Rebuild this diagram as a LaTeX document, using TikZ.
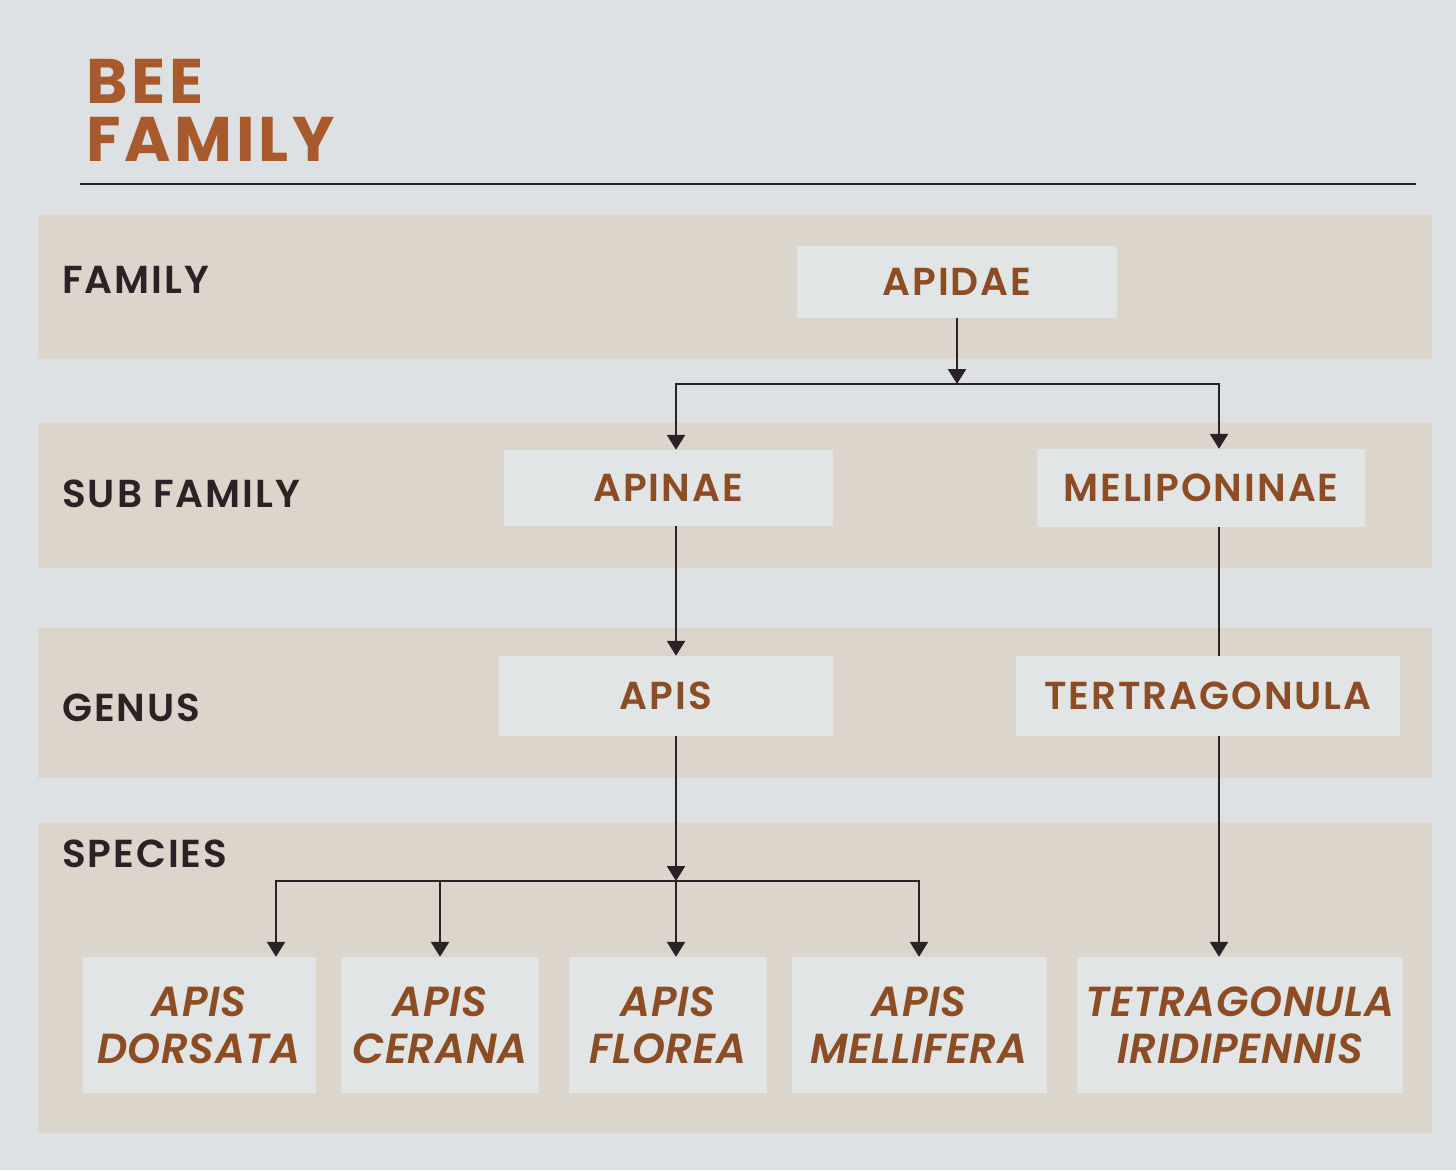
\documentclass[tikz,border=0pt]{standalone}
\usepackage{fontspec}
\setmainfont{Poppins}
\newfontfamily\labelfont{Poppins SemiBold}[LetterSpace=5]
\newfontfamily\speciesfont{Poppins SemiBold Italic}[LetterSpace=1.5]
\newfontfamily\titlefont{Poppins Bold}[LetterSpace=6]
\usetikzlibrary{arrows.meta}

\definecolor{paper}{HTML}{DDE1E4}
\definecolor{band}{HTML}{DBD5CC}
\definecolor{boxfill}{HTML}{E2E5E6}
\definecolor{rust}{HTML}{8C4C24}
\definecolor{titlerust}{HTML}{A95A2C}
\definecolor{ink}{HTML}{2A2325}

\begin{document}
\begin{tikzpicture}[x=1pt, y=-1pt,
	rank/.style = {anchor=base west, inner sep=0pt, text=ink, font=\labelfont\fontsize{39}{48}\selectfont},
	taxon/.style = {fill=boxfill, text=rust, inner sep=0pt, font=\labelfont\fontsize{39}{48}\selectfont},
	species/.style = {taxon, align=center, font=\speciesfont\fontsize{42}{47}\selectfont},
	heading/.style = {anchor=base west, inner sep=0pt, align=left, text=titlerust, font=\titlefont\fontsize{63}{58}\selectfont},
	link/.style = {draw=ink, line width=2.5pt},
	tip/.style = {-{Triangle[width=18pt,length=15pt]}}]
	\fill[paper] (0,0) rectangle (1456,1170);
	\useasboundingbox (0,0) rectangle (1456,1170);

	\node[heading] (title) at (86,161) {BEE\\FAMILY};
	\draw[ink, line width=2pt] (80,184) -- (1416,184);

	\foreach \ya/\yb in {215/359, 423/568, 628/778, 823/1133}
		\fill[band] (38,\ya) rectangle (1432,\yb);

	\node[rank] (rankfamily) at (62,293) {FAMILY};
	\node[rank] (ranksub) at (62,507) {SUB FAMILY};
	\node[rank] (rankgenus) at (62,721) {GENUS};
	\node[rank] (rankspecies) at (62,867) {SPECIES};

	\node[taxon, minimum width=320pt, minimum height=72pt] (apidae) at (957,282) {APIDAE};
	\node[taxon, minimum width=329pt, minimum height=76pt] (apinae) at (668,488) {APINAE};
	\node[taxon, minimum width=328pt, minimum height=78pt] (meliponinae) at (1201,488) {MELIPONINAE};
	\node[taxon, minimum width=334pt, minimum height=80pt] (apis) at (666,696) {APIS};
	\node[taxon, minimum width=384pt, minimum height=80pt] (tertragonula) at (1208,696) {TERTRAGONULA};

	\node[species, minimum width=233pt, minimum height=136pt] (dorsata) at (199,1025) {APIS\\DORSATA};
	\node[species, minimum width=198pt, minimum height=136pt] (cerana) at (440,1025) {APIS\\CERANA};
	\node[species, minimum width=198pt, minimum height=136pt] (florea) at (668,1025) {APIS\\FLOREA};
	\node[species, minimum width=255pt, minimum height=136pt] (mellifera) at (919,1025) {APIS\\MELLIFERA};
	\node[species, minimum width=326pt, minimum height=136pt] (iridipennis) at (1240,1025) {TETRAGONULA\\IRIDIPENNIS};

	\coordinate (lcol) at (676,0);
	\coordinate (rcol) at (1219,0);
	\coordinate (split) at (957,384);
	\coordinate (fan) at (676,881);

	\draw[link, tip] (apidae.south) -- (split);
	\draw[link, tip] (split) -| (apinae.north -| lcol);
	\draw[link, tip] (split) -| (meliponinae.north -| rcol);
	\draw[link, tip] (apinae.south -| lcol) -- (apis.north -| lcol);
	\draw[link] (meliponinae.south -| rcol) -- (tertragonula.north -| rcol);
	\draw[link, tip] (apis.south -| lcol) -- (fan);
	\draw[link, tip] (tertragonula.south -| rcol) -- (iridipennis.north -| rcol);

	\draw[link, tip] (fan) -| ([xshift=77pt]dorsata.north);
	\draw[link, tip] (fan) -| (cerana.north);
	\draw[link, tip] (fan) -- (florea.north -| fan);
	\draw[link, tip] (fan) -| (mellifera.north);
\end{tikzpicture}
\end{document}
